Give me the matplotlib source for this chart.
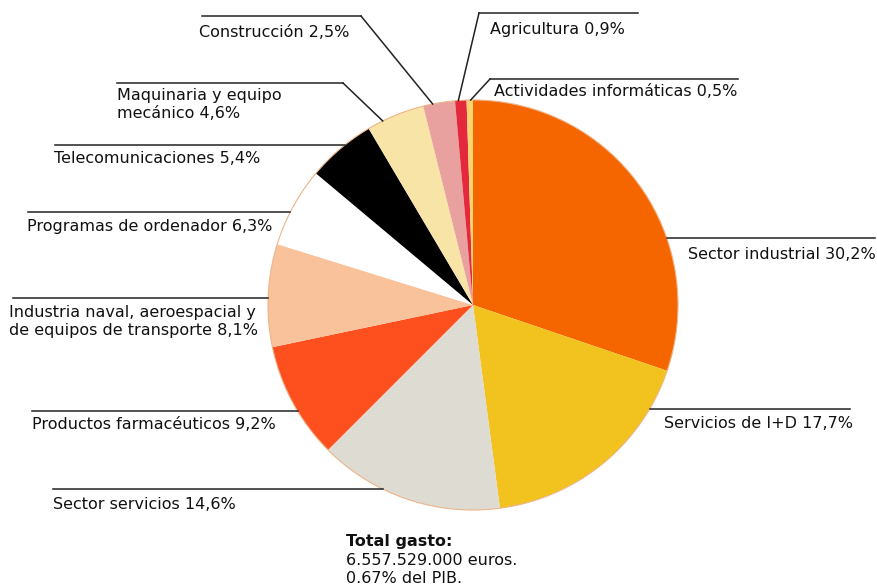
import matplotlib.pyplot as plt
from matplotlib.patches import Circle
import numpy as np

# Gasto en I+D por sector (%)
sectores = ["Sector industrial", "Servicios de I+D", "Sector servicios",
            "Productos farmacéuticos",
            "Industria naval, aeroespacial y\nde equipos de transporte",
            "Programas de ordenador", "Telecomunicaciones",
            "Maquinaria y equipo\nmecánico", "Construcción", "Agricultura",
            "Actividades informáticas"]
porcentajes = [30.2, 17.7, 14.6, 9.2, 8.1, 6.3, 5.4, 4.6, 2.5, 0.9, 0.5]
colores = ["#F56600", "#F2C21F", "#DEDBD2", "#FE501E", "#FAC29A", "#FFFFFF",
           "#000000", "#F9E4A7", "#E8A19F", "#E5293C", "#F9D570"]

total_titulo = "Total gasto:"
total_texto = "6.557.529.000 euros.\n0.67% del PIB."

W, H = 877, 585
cx, cy, r = 473, 305, 205

fig = plt.figure(figsize=(8.77, 5.85), dpi=100)
ax = fig.add_axes([0, 0, 1, 1])

# y hacia abajo: el sentido antihorario de datos se ve horario
wedges, _ = ax.pie(porcentajes, colors=colores, startangle=-90,
                   counterclock=True, center=(cx, cy), radius=r,
                   wedgeprops=dict(linewidth=0))
ax.add_patch(Circle((cx, cy), r, fill=False, edgecolor="#ECB58A", lw=0.8))
ax.set_xlim(0, W)
ax.set_ylim(H, 0)
ax.set_aspect("equal")
ax.axis("off")

fs = 11.5
lc = "#222222"
lw = 1.1
esp = 1.22

# etiquetas con línea horizontal hasta el borde del círculo
# (índice, lado, y de la línea, extremo libre, x texto, y texto)
horizontales = [
    (0, "der", 238, 875, 876, 247),
    (1, "der", 409, 850, 853, 416),
    (2, "izq", 489, 53, 53, 497),
    (3, "izq", 411, 32, 32, 417),
    (4, "izq", 298, 13, 9, 305),
    (5, "izq", 212, 28, 27, 219),
    (6, "izq", 145, 55, 54, 151),
]
for i, lado, ly, xlibre, tx, ty in horizontales:
    dx = np.sqrt(r ** 2 - (ly - cy) ** 2)
    xborde = cx + dx if lado == "der" else cx - dx
    ax.plot([xlibre, xborde], [ly, ly], color=lc, lw=lw)
    ax.text(tx, ty, f"{sectores[i]} {porcentajes[i]:.1f}%".replace(".", ","),
            ha="right" if lado == "der" else "left", va="top",
            fontsize=fs, color="#111111", linespacing=esp)

# etiquetas con codo: tramo horizontal y diagonal hasta la porción
# (índice, x0, x1, y línea, x codo, fracción en la porción, x texto, y texto)
codos = [
    (7, 117, 343, 83, 343, 0.27, 117, 88),
    (8, 202, 361, 16, 361, 0.30, 199, 25),
    (9, 479, 638, 13, 479, 0.29, 490, 22),
    (10, 490, 738, 79, 490, 0.64, 494, 84),
]
for i, x0, x1, ly, xc, frac, tx, ty in codos:
    w = wedges[i]
    ang = np.radians(w.theta1 + frac * (w.theta2 - w.theta1))
    px, py = cx + r * np.cos(ang), cy + r * np.sin(ang)
    ax.plot([x0, x1], [ly, ly], color=lc, lw=lw)
    ax.plot([xc, px], [ly, py], color=lc, lw=lw)
    ax.text(tx, ty, f"{sectores[i]} {porcentajes[i]:.1f}%".replace(".", ","),
            ha="left", va="top", fontsize=fs, color="#111111",
            linespacing=esp)

ax.text(346, 534, total_titulo, ha="left", va="top", fontsize=fs,
        fontweight="bold", color="#111111")
ax.text(346, 553, total_texto, ha="left", va="top", fontsize=fs,
        color="#111111", linespacing=esp)

fig.savefig("out.png", dpi=100)
